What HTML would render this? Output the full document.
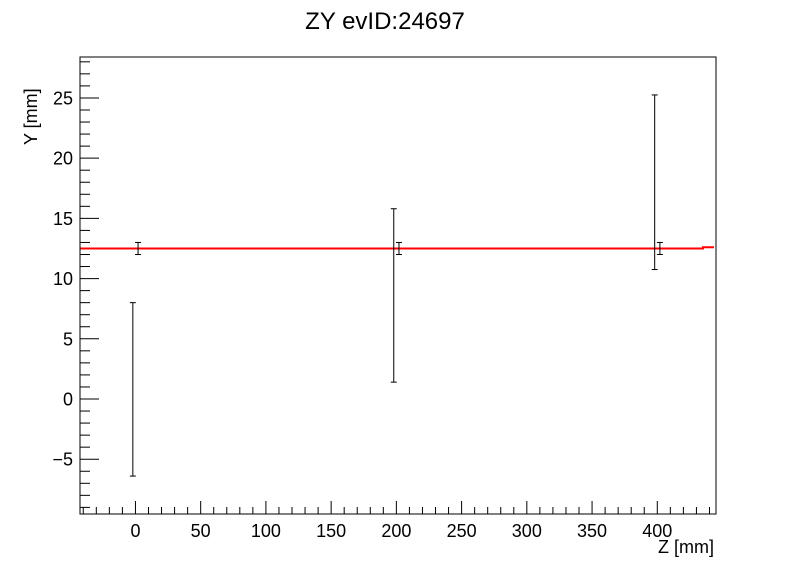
<!DOCTYPE html>
<html><head><meta charset="utf-8"><style>
body{margin:0;background:#fff;}
svg text{font-family:"Liberation Sans",Arial,sans-serif;fill:#000;}
</style></head><body>
<svg id="c" width="796" height="572" xmlns="http://www.w3.org/2000/svg">
<rect width="796" height="572" fill="#fff"/>
<text x="385" y="29" font-size="24" text-anchor="middle">ZY evID:24697</text>
<text x="714" y="553" font-size="18" text-anchor="end">Z [mm]</text>
<text transform="translate(37,145) rotate(-90)" font-size="18">Y [mm]</text>
<g id="axes"></g><g id="marks"></g>
<rect x="80" y="57" width="636" height="457" fill="none" stroke="#000" stroke-width="1"/>
</svg>
<script>
const xTicks=[0,50,100,150,200,250,300,350,400];
const yTicks=[-5,0,5,10,15,20,25];
const pointZ=[-2,2,198,202,398,402];
const pointY=[0.8,12.5,8.6,12.5,18,12.5];
const pointErr=[7.2,0.5,7.2,0.5,7.25,0.5];
const fitZ=[-42.5,435,435,443.5];
const fitY=[12.5,12.5,12.6,12.6];
const X0=80,X1=716,Y0=514,Y1=57,xmin=-42.5,xmax=445,ymin=-9.55,ymax=28.4;
const sx=v=>X0+(v-xmin)/(xmax-xmin)*(X1-X0);
const sy=v=>Y0-(v-ymin)/(ymax-ymin)*(Y0-Y1);
const NS="http://www.w3.org/2000/svg";
function mk(t,a,p){const e=document.createElementNS(NS,t);for(const k in a)e.setAttribute(k,a[k]);p.appendChild(e);return e;}
const ax=document.getElementById('axes'),mg=document.getElementById('marks');
for(let v=-40;v<=440;v+=10){const x=sx(v);const maj=v%50===0;
const l=mk('line',{x1:x,x2:x,y1:Y0,y2:Y0-(maj?13:7),stroke:'#000'},ax);

}
xTicks.forEach(v=>{const t=mk('text',{x:sx(v),y:537,'font-size':18,'text-anchor':'middle'},ax);t.textContent=v;

});
for(let v=-9;v<=28;v++){const y=sy(v);const maj=v%5===0;
const l=mk('line',{x1:X0,x2:X0+(maj?19:10),y1:y,y2:y,stroke:'#000'},ax);

}
yTicks.forEach(v=>{const t=mk('text',{x:73,y:sy(v)+6.5,'font-size':18,'text-anchor':'end'},ax);t.textContent=v<0?'\u2212'+(-v):v;

});
let d='';fitZ.forEach((z,i)=>{d+=(i?'L':'M')+sx(z)+' '+sy(fitY[i]);});
const fl=mk('path',{d:d,stroke:'#f00','stroke-width':2,fill:'none'},mg);


pointZ.forEach((z,i)=>{const x=sx(z),yt=sy(pointY[i]+pointErr[i]),yb=sy(pointY[i]-pointErr[i]);
const g=mk('g',{},mg);


mk('line',{x1:x,x2:x,y1:yt,y2:yb,stroke:'#000'},g);
mk('line',{x1:x-3,x2:x+3,y1:yt,y2:yt,stroke:'#000'},g);
mk('line',{x1:x-3,x2:x+3,y1:yb,y2:yb,stroke:'#000'},g);});
</script>
</body></html>
